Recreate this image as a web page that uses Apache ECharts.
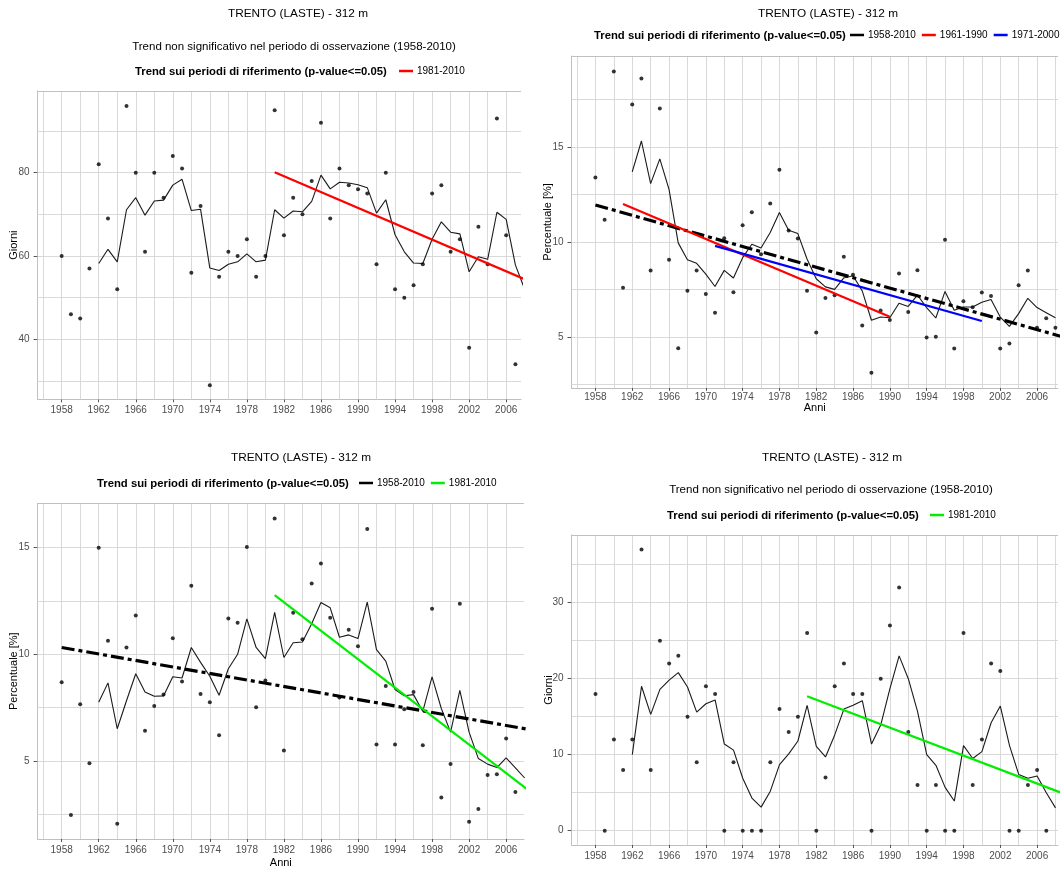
<!DOCTYPE html>
<html>
<head>
<meta charset="utf-8">
<script src="https://cdn.jsdelivr.net/npm/echarts@6/dist/echarts.min.js"></script>
<style>
  html, body { margin: 0; padding: 0; background: #ffffff; }
  #main { width: 1061px; height: 869px; }
</style>
</head>
<body>
<div id="main"></div>
<script>
// Anni di osservazione (1958-2008 visibili)
const anni = [1958,1959,1960,1961,1962,1963,1964,1965,1966,1967,1968,1969,1970,1971,1972,1973,1974,1975,1976,1977,
  1978,1979,1980,1981,1982,1983,1984,1985,1986,1987,1988,1989,1990,1991,1992,1993,1994,1995,1996,1997,
  1998,1999,2000,2001,2002,2003,2004,2005,2006,2007,2008];

// Etichette degli assi
const tickAnni = [1958,1962,1966,1970,1974,1978,1982,1986,1990,1994,1998,2002,2006];
const tickGiorniA = [40, 60, 80];
const tickPercA = [5, 10, 15];
const tickPercB = [5, 10, 15];
const tickGiorniB = [0, 10, 20, 30];

// Pannello 1: giorni (valori annui e media mobile)
const giorniA = [60,46,45,57,82,69,52,96,80,61,80,74,84,81,56,72,29,55,61,60,
  64,55,60,95,65,74,70,78,92,69,81,77,76,75,58,80,52,50,53,58,
  75,77,61,64,38,67,58,93,65,34,null];
const mediaGiorniA = [null,null,null,null,58.2,61.6,58.6,71.1,74.0,69.8,73.2,73.4,77.0,78.4,70.9,71.2,57.1,56.5,58.0,58.6,
  60.5,58.6,59.0,71.1,69.1,70.8,70.6,73.1,79.4,76.1,77.7,77.5,77.1,76.4,70.3,73.5,65.1,61.0,58.3,58.2,
  64.0,68.2,65.7,65.3,56.2,59.8,59.2,70.5,68.8,57.8,52.0];
const trendGiorniA_8110 = [[1981, 80.1], [2010, 52.5]];

// Pannello 2: percentuale
const percA = [13.4,11.17,18.98,7.58,17.24,18.62,8.5,17.03,9.06,4.4,7.42,8.5,7.25,6.27,10.2,7.35,10.88,11.57,9.35,12.02,
  13.8,10.6,10.18,7.43,5.23,7.05,7.19,9.22,8.27,5.6,3.1,6.38,5.89,8.33,6.3,8.51,4.96,5.0,10.12,4.38,
  6.87,6.55,7.33,7.15,4.38,4.65,7.72,8.5,5.47,5.97,5.48];
const mediaPercA = [null,null,null,null,13.69,15.32,13.07,14.38,12.77,9.95,9.06,8.87,8.3,7.65,8.5,8.1,9.17,9.88,9.68,10.5,
  11.55,10.62,10.44,9.1,8.06,7.63,7.5,8.1,8.22,7.42,5.87,6.04,6.0,6.77,6.6,7.2,6.54,5.99,7.39,6.4,
  6.57,6.57,6.82,6.96,6.04,5.55,6.22,7.03,6.54,6.27,6.0];
const trendPercA_5810 = [[1958, 11.95], [2010, 4.83]];
const trendPercA_6190 = [[1961, 12.0], [1990, 6.05]];
const trendPercA_7100 = [[1971, 9.79], [2000, 5.83]];

// Pannello 3: percentuale
const percB = [8.69,2.46,7.66,4.89,15.0,10.63,2.05,10.32,11.82,6.42,7.58,8.11,10.75,8.72,13.22,8.14,7.75,6.2,11.68,11.48,
  15.03,7.52,8.77,16.37,5.49,11.95,10.71,13.32,14.26,11.71,7.98,11.15,10.38,15.88,5.77,8.51,5.77,7.42,8.23,5.74,
  12.14,3.28,4.86,12.37,2.15,2.75,4.34,4.38,6.05,3.54,3.28];
const mediaPercB = [null,null,null,null,7.75,8.66,6.51,7.82,9.09,8.23,8.03,8.05,8.95,8.89,10.32,9.62,8.97,8.08,9.32,10.0,
  11.66,10.32,9.8,11.97,9.85,10.54,10.58,11.43,12.43,12.18,10.8,10.91,10.74,12.45,10.22,9.68,8.35,8.06,8.11,7.32,
  8.94,7.46,6.35,8.31,6.35,5.11,4.85,4.69,5.14,4.68,4.2];
const trendPercB_5810 = [[1958, 10.32], [2010, 6.36]];
const trendPercB_8110 = [[1981, 12.77], [2010, 3.1]];

// Pannello 4: giorni
const giorniB = [18,0,12,8,12,37,8,25,22,23,15,9,19,18,0,9,0,0,0,9,
  16,13,15,26,0,7,19,22,18,18,0,20,27,32,13,6,0,6,0,0,
  26,6,12,22,21,0,0,6,8,0,null];
const mediaGiorniB = [null,null,null,null,10.0,19.0,15.3,18.6,19.8,20.8,18.9,15.6,16.7,17.2,11.4,10.6,6.9,4.3,3.1,5.2,
  8.7,10.1,11.8,16.5,11.1,9.7,12.6,16.0,16.5,17.1,11.4,13.9,18.7,23.0,20.0,15.7,10.0,8.6,5.7,3.9,
  11.2,9.5,10.4,14.2,16.4,11.2,7.4,6.9,7.2,5.0,3.0];
const trendGiorniB_8110 = [[1981, 17.7], [2010, 4.36]];

// Testi
const titolo = 'TRENTO (LASTE) - 312 m';
const sottotitolo = 'Trend non significativo nel periodo di osservazione (1958-2010)';
const legendaTitolo = 'Trend sui periodi di riferimento (p-value<=0.05)';

const FONT = '"Liberation Sans", Arial, Helvetica, sans-serif';
const GRID_COLOR = '#d9d9d9';
const BORDER_COLOR = '#c0c0c0';
const RED = '#ff0000', BLUE = '#0000ff', GREEN = '#00ee00', BLACK = '#000000';
const DASH = [13, 4, 4, 4];

function pairs(values) {
  const out = [];
  values.forEach((v, i) => { if (v !== null) out.push([anni[i], v]); });
  return out;
}

// Layout dei quattro pannelli
const panels = [
  { grid: { left: 37.6, top: 91, width: 483.4, height: 308.3 }, x: [1955.4, 2007.6], y: [25.6, 99.6],
    gx: [1956,1958,1960,1962,1964,1966,1968,1970,1972,1974,1976,1978,1980,1982,1984,1986,1988,1990,1992,1994,1996,1998,2000,2002,2004,2006],
    gy: [30,40,50,60,70,80,90], ticksY: tickGiorniA, yName: 'Giorni', yGap: 18.5, xName: '' },
  { grid: { left: 571.5, top: 56, width: 486.5, height: 332 }, x: [1955.4, 2008.28], y: [2.3, 19.8],
    gx: [1956,1958,1960,1962,1964,1966,1968,1970,1972,1974,1976,1978,1980,1982,1984,1986,1988,1990,1992,1994,1996,1998,2000,2002,2004,2006,2008],
    gy: [2.5,5,7.5,10,12.5,15,17.5], ticksY: tickPercA, yName: 'Percentuale [%]', yGap: 18.5, xName: 'Anni', xGap: 14, xMargin: 4 },
  { grid: { left: 37.6, top: 503.3, width: 486.4, height: 341 }, x: [1955.4, 2007.93], y: [1.34, 17.08],
    gx: [1956,1958,1960,1962,1964,1966,1968,1970,1972,1974,1976,1978,1980,1982,1984,1986,1988,1990,1992,1994,1996,1998,2000,2002,2004,2006],
    gy: [2.5,5,7.5,10,12.5,15], ticksY: tickPercB, yName: 'Percentuale [%]', yGap: 18.5, xName: 'Anni', xGap: 18 },
  { grid: { left: 571.6, top: 535, width: 486.4, height: 310 }, x: [1955.4, 2008.27], y: [-1.88, 38.9],
    gx: [1956,1958,1960,1962,1964,1966,1968,1970,1972,1974,1976,1978,1980,1982,1984,1986,1988,1990,1992,1994,1996,1998,2000,2002,2004,2006,2008],
    gy: [0,5,10,15,20,25,30,35], ticksY: tickGiorniB, yName: 'Giorni', yGap: 17.5, xName: '' }
];

const grids = [], xAxes = [], yAxes = [];
panels.forEach((p, i) => {
  grids.push(Object.assign({ containLabel: false }, p.grid));
  xAxes.push({
    type: 'value', gridIndex: i, min: p.x[0], max: p.x[1],
    name: p.xName, nameLocation: 'middle', nameGap: p.xGap || 15, nameMoveOverlap: false,
    nameTextStyle: { fontFamily: FONT, fontSize: 11, color: '#000' },
    axisLine: { show: true, onZero: false, lineStyle: { color: BORDER_COLOR, width: 1 } },
    axisTick: { show: true, length: 3, customValues: tickAnni, lineStyle: { color: '#555', width: 1 } },
    axisLabel: { customValues: tickAnni, formatter: v => String(v), fontFamily: FONT, fontSize: 10, color: '#4d4d4d', margin: p.xMargin || 6 },
    splitLine: { show: false }
  });
  yAxes.push({
    type: 'value', gridIndex: i, min: p.y[0], max: p.y[1],
    name: p.yName, nameLocation: 'middle', nameGap: p.yGap, nameRotate: 90, nameMoveOverlap: false,
    nameTextStyle: { fontFamily: FONT, fontSize: 11, color: '#000' },
    axisLine: { show: true, onZero: false, lineStyle: { color: BORDER_COLOR, width: 1 } },
    axisTick: { show: true, length: 4, customValues: p.ticksY, lineStyle: { color: '#555', width: 1 } },
    axisLabel: { customValues: p.ticksY, formatter: v => String(v), fontFamily: FONT, fontSize: 10, color: '#4d4d4d', margin: 8 },
    splitLine: { show: false }
  });
});

function gridLines(p) {
  const data = [];
  p.gx.forEach(v => data.push({ xAxis: v }));
  p.gy.forEach(v => data.push({ yAxis: v }));
  data.push({ yAxis: p.y[1], lineStyle: { color: BORDER_COLOR } });
  return {
    silent: true, symbol: 'none', z: 1, animation: false,
    label: { show: false },
    lineStyle: { color: GRID_COLOR, width: 1, type: 'solid' },
    emphasis: { disabled: true },
    data: data
  };
}

function puntiSeries(i, values) {
  return {
    type: 'scatter', xAxisIndex: i, yAxisIndex: i, data: pairs(values),
    symbol: 'circle', symbolSize: 4, itemStyle: { color: '#000' }, z: 3,
    silent: true, markLine: gridLines(panels[i])
  };
}
function mediaSeries(i, values) {
  return {
    type: 'line', xAxisIndex: i, yAxisIndex: i, data: pairs(values),
    showSymbol: false, symbol: 'none', lineStyle: { color: '#1a1a1a', width: 1.1 }, z: 3, silent: true
  };
}
function trendSeries(i, name, pts, color, dashed) {
  return {
    type: 'line', name: name, xAxisIndex: i, yAxisIndex: i, data: pts,
    showSymbol: false, symbol: 'none', z: 4, silent: true,
    itemStyle: { color: color },
    lineStyle: { color: color, width: dashed ? 3.2 : 2.2, type: dashed ? DASH : 'solid', cap: 'butt' }
  };
}

const series = [
  puntiSeries(0, giorniA), mediaSeries(0, mediaGiorniA),
  trendSeries(0, '1981-2010', trendGiorniA_8110, RED, false),

  puntiSeries(1, percA), mediaSeries(1, mediaPercA),
  trendSeries(1, '1958-2010', trendPercA_5810, BLACK, true),
  trendSeries(1, '1961-1990', trendPercA_6190, RED, false),
  trendSeries(1, '1971-2000', trendPercA_7100, BLUE, false),

  puntiSeries(2, percB), mediaSeries(2, mediaPercB),
  trendSeries(2, '1958-2010', trendPercB_5810, BLACK, true),
  trendSeries(2, '1981-2010', trendPercB_8110, GREEN, false),

  puntiSeries(3, giorniB), mediaSeries(3, mediaGiorniB),
  trendSeries(3, '1981-2010', trendGiorniB_8110, GREEN, false)
];

function legenda(left, top, items) {
  return {
    left: left, top: top, orient: 'horizontal', padding: 0, width: 400,
    itemWidth: 14, itemHeight: 2.5, itemGap: 6, icon: 'rect', selectedMode: false,
    textStyle: { fontFamily: FONT, fontSize: 10, color: '#000', padding: [0, 0, 0, -1] },
    data: items.map(it => ({ name: it[0], icon: 'rect', itemStyle: { color: it[1] } }))
  };
}

const legends = [
  legenda(399, 66, [['1981-2010', RED]]),
  legenda(850, 30, [['1958-2010', BLACK], ['1961-1990', RED], ['1971-2000', BLUE]]),
  legenda(359, 478, [['1958-2010', BLACK], ['1981-2010', GREEN]]),
  legenda(930, 510, [['1981-2010', GREEN]])
];

function testo(x, y, text, size, bold, align) {
  return {
    type: 'text', x: x, y: y, silent: true,
    style: {
      text: text, fill: '#000',
      font: (bold ? 'bold ' : '') + size + 'px ' + FONT,
      align: align || 'center', verticalAlign: 'middle'
    }
  };
}

const elements = [
  testo(298, 13.5, titolo, 11.8),
  testo(294, 47, sottotitolo, 11.5),
  testo(135, 72, legendaTitolo, 11.3, true, 'left'),

  testo(828, 13.5, titolo, 11.8),
  testo(594, 36, legendaTitolo, 11.3, true, 'left'),

  testo(301, 457.5, titolo, 11.8),
  testo(97, 484, legendaTitolo, 11.3, true, 'left'),

  testo(832, 457.5, titolo, 11.8),
  testo(831, 489.5, sottotitolo, 11.5),
  testo(667, 516, legendaTitolo, 11.3, true, 'left')
];

const chart = echarts.init(document.getElementById('main'), null, { renderer: 'canvas' });
chart.setOption({
  animation: false,
  backgroundColor: '#ffffff',
  textStyle: { fontFamily: FONT },
  grid: grids,
  xAxis: xAxes,
  yAxis: yAxes,
  legend: legends,
  graphic: { elements: elements },
  series: series
});
</script>
</body>
</html>
